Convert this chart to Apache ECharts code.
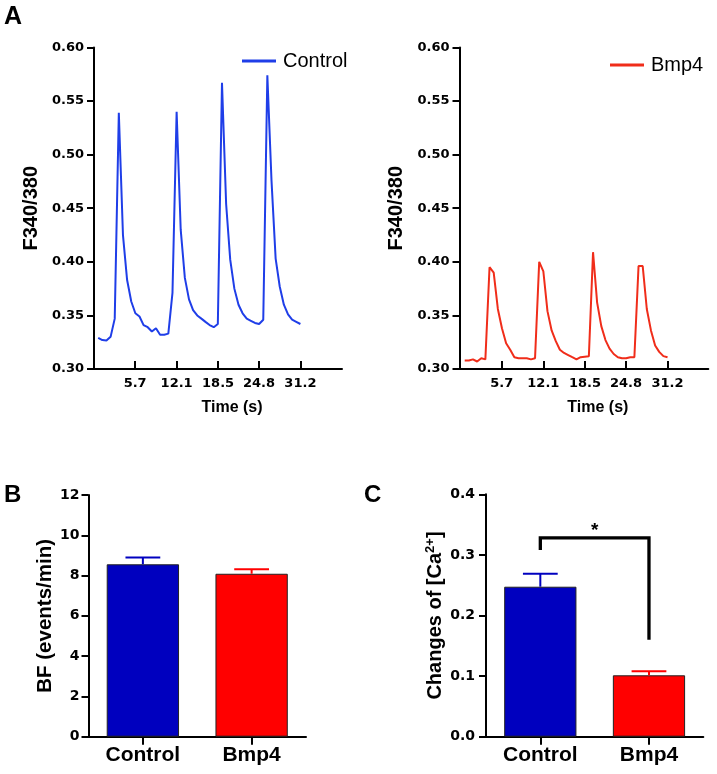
<!DOCTYPE html>
<html>
<head>
<meta charset="utf-8">
<script src="https://cdn.jsdelivr.net/npm/echarts@6/dist/echarts.min.js"></script>
<style>
html,body{margin:0;padding:0;background:#fff;}
#chart{width:717px;height:774px;}
</style>
</head>
<body>
<div id="chart"></div>
<script>
// ---------- DATA ----------
const timeS = [0,0.64,1.27,1.91,2.55,3.18,3.82,4.46,5.10,5.73,6.37,7.00,7.64,8.28,8.91,9.55,10.19,10.82,11.46,12.10,12.73,13.37,14.01,14.64,15.28,15.92,16.55,17.19,17.83,18.46,19.10,19.74,20.37,21.01,21.65,22.28,22.92,23.56,24.19,24.83,25.47,26.10,26.74,27.38,28.01,28.65,29.29,29.92,30.56,31.20];
const controlF = [0.329,0.327,0.3265,0.330,0.347,0.539,0.425,0.383,0.363,0.352,0.349,0.341,0.339,0.335,0.338,0.332,0.332,0.333,0.371,0.540,0.430,0.385,0.365,0.355,0.350,0.347,0.344,0.341,0.339,0.342,0.567,0.454,0.402,0.375,0.360,0.352,0.347,0.345,0.343,0.342,0.346,0.574,0.476,0.403,0.377,0.360,0.351,0.346,0.344,0.342];
const bmp4F = [0.308,0.308,0.309,0.307,0.310,0.309,0.395,0.390,0.356,0.338,0.324,0.318,0.311,0.310,0.310,0.310,0.309,0.310,0.400,0.391,0.354,0.336,0.326,0.318,0.315,0.313,0.311,0.309,0.311,0.3115,0.312,0.409,0.362,0.340,0.327,0.319,0.314,0.311,0.310,0.310,0.311,0.311,0.396,0.396,0.356,0.336,0.322,0.316,0.312,0.311];
const timeTicks = [5.7,12.1,18.5,24.8,31.2];

const groups = ['Control','Bmp4'];
const bfMean = [8.56, 8.09];
const bfSem = [0.34, 0.22];
const caMean = [0.2475, 0.1013];
const caSem = [0.0215, 0.0067];
// significance bracket: [left category, right category, top, left leg end, right leg end]
const sigBracket = [0, 1, 0.328, 0.308, 0.160];
const sigLabel = '*';
const sigLabelY = 0.340;

// ---------- STYLE ----------
const BLUE_LINE = '#1f3ee8';
const RED_LINE = '#f02d1a';
const BLUE_BAR = '#0000bf';
const RED_BAR = '#ff0000';
const barColors = [BLUE_BAR, RED_BAR];
const tickFont = {fontFamily:'DejaVu Sans', fontWeight:'bold', color:'#000'};
const nameFont = 'Liberation Sans';

function lineXAxis(gi, min){
  return {
    gridIndex: gi, type:'value', min: min, max: min + 38.27,
    axisLine:{show:true, onZero:false, lineStyle:{color:'#000', width:2}},
    axisTick:{show:true, inside:true, length:8, lineStyle:{color:'#000', width:2}, customValues: timeTicks},
    axisLabel:Object.assign({fontSize:13, margin:8, customValues: timeTicks, formatter:v=>String(v)}, tickFont),
    splitLine:{show:false},
    name:'Time (s)', nameLocation:'middle', nameGap:31,
    nameTextStyle:{fontFamily:nameFont, fontWeight:'bold', fontSize:16, color:'#000', padding:[0,0,0,28]}
  };
}
function lineYAxis(gi){
  return {
    gridIndex: gi, type:'value', min:0.30, max:0.60, interval:0.05,
    axisLine:{show:true, onZero:false, lineStyle:{color:'#000', width:2}},
    axisTick:{show:true, length:7, lineStyle:{color:'#000', width:2}},
    axisLabel:Object.assign({fontSize:13, margin:10, formatter:v=>v.toFixed(2)}, tickFont),
    splitLine:{show:false},
    name:'F340/380', nameLocation:'middle', nameGap:53, nameRotate:90,
    nameTextStyle:{fontFamily:nameFont, fontWeight:'bold', fontSize:20, color:'#000'}
  };
}
function barXAxis(gi){
  return {
    gridIndex: gi, type:'category', data: groups,
    axisLine:{show:true, lineStyle:{color:'#000', width:2}},
    axisTick:{show:true, alignWithLabel:true, length:8, lineStyle:{color:'#000', width:2}},
    axisLabel:{fontFamily:nameFont, fontWeight:'bold', fontSize:21, color:'#000', margin:8}
  };
}
function errRender(){
  return function(params, api){
    const i = api.value(0), m = api.value(1), e = api.value(2);
    const base = api.coord([i, m]);
    const top = api.coord([i, m + e]);
    const bw = api.size([1, 0])[0];
    const hw = bw * 0.16;
    const c = barColors[i];
    return {type:'group', children:[
      {type:'line', shape:{x1:base[0], y1:base[1], x2:top[0], y2:top[1]}, style:{stroke:c, lineWidth:2}},
      {type:'line', shape:{x1:top[0]-hw, y1:top[1], x2:top[0]+hw, y2:top[1]}, style:{stroke:c, lineWidth:2}}
    ]};
  };
}

const chart = echarts.init(document.getElementById('chart'), null, {renderer:'canvas'});
const option = {
  animation:false,
  backgroundColor:'#fff',
  textStyle:{fontFamily:nameFont},
  graphic:[
    {type:'text', left:4, top:5, style:{text:'A', font:'bold 25px "Liberation Sans"', fill:'#000'}},
    {type:'text', left:4, top:483, style:{text:'B', font:'bold 24px "Liberation Sans"', fill:'#000'}},
    {type:'text', left:364, top:483, style:{text:'C', font:'bold 24px "Liberation Sans"', fill:'#000'}}
  ],
  legend:[
    {data:['Control'], left:237, top:46, itemWidth:34, itemHeight:3, icon:'rect',
     textStyle:{fontFamily:nameFont, fontSize:20, color:'#000', padding:[0,0,0,2]}},
    {data:['Bmp4'], left:605, top:50, itemWidth:34, itemHeight:3, icon:'rect',
     textStyle:{fontFamily:nameFont, fontSize:20, color:'#000', padding:[0,0,0,2]}}
  ],
  grid:[
    {left:94, top:47.5, width:248, height:321.5},
    {left:459.5, top:47.5, width:248.8, height:321.5},
    {left:88.5, top:495, width:217.5, height:241.7},
    {left:486, top:494.3, width:217.3, height:242.4}
  ],
  xAxis:[
    lineXAxis(0, -0.65),
    lineXAxis(1, -0.8),
    barXAxis(2),
    barXAxis(3)
  ],
  yAxis:[
    lineYAxis(0),
    lineYAxis(1),
    {gridIndex:2, type:'value', min:0, max:12, interval:2,
     axisLine:{show:true, lineStyle:{color:'#000', width:2}},
     axisTick:{show:true, length:7, lineStyle:{color:'#000', width:2}},
     axisLabel:Object.assign({fontSize:14, margin:9}, tickFont),
     splitLine:{show:false},
     name:'BF (events/min)', nameLocation:'middle', nameGap:32, nameRotate:90,
     nameTextStyle:{fontFamily:nameFont, fontWeight:'bold', fontSize:20.5, color:'#000'}},
    {gridIndex:3, type:'value', min:0, max:0.4, interval:0.1,
     axisLine:{show:true, lineStyle:{color:'#000', width:2}},
     axisTick:{show:true, length:7, lineStyle:{color:'#000', width:2}},
     axisLabel:Object.assign({fontSize:14, margin:11, formatter:v=>v.toFixed(1)}, tickFont),
     splitLine:{show:false},
     name:'{a|Changes of [Ca}{s|2+}{a|]}', nameLocation:'middle', nameGap:40, nameRotate:90,
     nameTextStyle:{color:'#000', rich:{
       a:{fontFamily:nameFont, fontWeight:'bold', fontSize:20, color:'#000'},
       s:{fontFamily:nameFont, fontWeight:'bold', fontSize:13, color:'#000', verticalAlign:'top', padding:[0,0,9,0]}
     }}}
  ],
  series:[
    {name:'Control', type:'line', xAxisIndex:0, yAxisIndex:0, showSymbol:false, symbol:'none',
     data: timeS.map((t,i)=>[t, controlF[i]]), lineStyle:{color:BLUE_LINE, width:2}, itemStyle:{color:BLUE_LINE}},
    {name:'Bmp4', type:'line', xAxisIndex:1, yAxisIndex:1, showSymbol:false, symbol:'none',
     data: timeS.map((t,i)=>[t, bmp4F[i]]), lineStyle:{color:RED_LINE, width:2}, itemStyle:{color:RED_LINE}},
    {type:'bar', xAxisIndex:2, yAxisIndex:2, barWidth:'66.5%',
     data: bfMean.map((v,i)=>({value:v, itemStyle:{color:barColors[i], borderColor:'#222', borderWidth:1}}))},
    {type:'custom', xAxisIndex:2, yAxisIndex:2, z:3, renderItem: errRender(),
     data: bfMean.map((v,i)=>[i, v, bfSem[i]])},
    {type:'bar', xAxisIndex:3, yAxisIndex:3, barWidth:'66.5%',
     data: caMean.map((v,i)=>({value:v, itemStyle:{color:barColors[i], borderColor:'#222', borderWidth:1}}))},
    {type:'custom', xAxisIndex:3, yAxisIndex:3, z:3, renderItem: errRender(),
     data: caMean.map((v,i)=>[i, v, caSem[i]])},
    {type:'custom', xAxisIndex:3, yAxisIndex:3, z:4,
     data:[sigBracket],
     renderItem:function(params, api){
       const a = api.value(0), b = api.value(1), top = api.value(2), l = api.value(3), r = api.value(4);
       const p1 = api.coord([a, l]), p2 = api.coord([a, top]), p3 = api.coord([b, top]), p4 = api.coord([b, r]);
       const mid = api.coord([(a+b)/2, sigLabelY]);
       mid[0] = (p2[0]+p3[0])/2;
       return {type:'group', children:[
         {type:'polyline', shape:{points:[p1,p2,p3,p4]}, style:{stroke:'#000', lineWidth:3.3, fill:null, lineJoin:'miter'}},
         {type:'text', style:{text:sigLabel, x:mid[0], y:mid[1], align:'center', verticalAlign:'middle', font:'bold 19px "Liberation Sans"', fill:'#000'}}
       ]};
     }}
  ]
};
chart.setOption(option);
</script>
</body>
</html>
